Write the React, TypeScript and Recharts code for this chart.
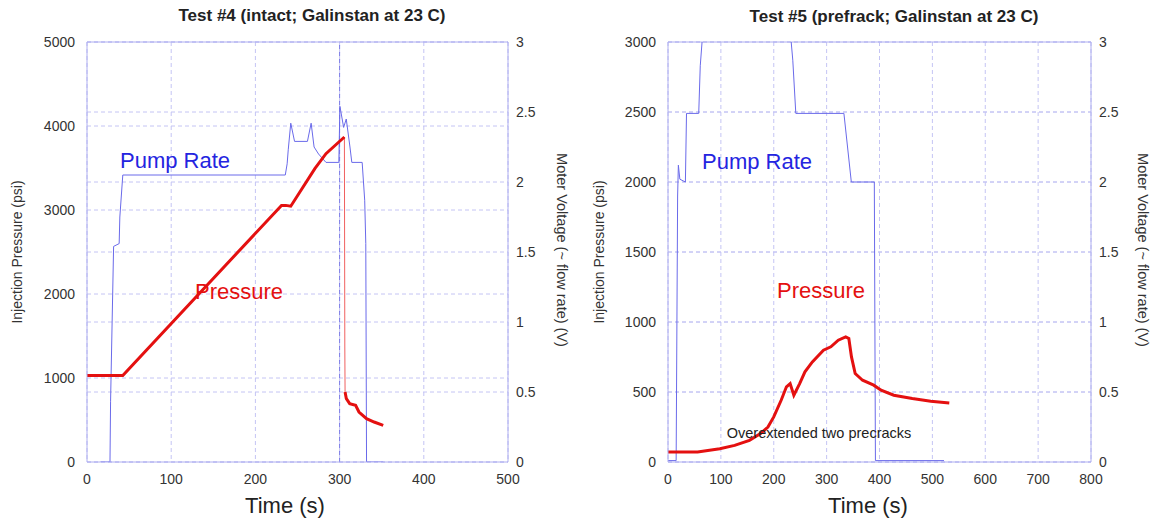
import React from 'react'
import { LineChart, Line, XAxis, YAxis, CartesianGrid, ReferenceLine } from 'recharts'

// Test #4 (intact)
const pump4Time = [16, 27.3, 28, 31.6, 38.2, 39, 42.5, 235.5, 237.7, 239, 242, 246.5, 261.8, 266.2, 269.7, 275, 283.8, 299.1, 300.4, 304.8, 307.9, 312.3, 314.5, 326.8, 329.8, 331.1, 332, 351.8]
const pump4Volt = [0, 0, 0.43, 1.54, 1.56, 1.75, 2.05, 2.05, 2.13, 2.23, 2.42, 2.29, 2.29, 2.42, 2.25, 2.2, 2.14, 2.14, 2.54, 2.39, 2.45, 2.25, 2.14, 2.14, 1.87, 1.56, 0, 0]
const press4aTime = [0, 42.5, 231, 236, 242, 270.6, 283.8, 305.7]
const press4aPsi = [1030, 1030, 3055, 3055, 3045, 3492, 3670, 3869]
const press4DropTime = [305.7, 306.2, 306.5]
const press4DropPsi = [3869, 1369, 833]
const press4bTime = [306.5, 308, 312, 319, 323, 332, 341, 351.8]
const press4bPsi = [833, 754, 694, 675, 595, 516, 476, 436]

// Test #5 (prefrack)
const pump5Time = [0, 15.4, 18.2, 19.6, 22.4, 32.9, 35, 58.1, 61, 64.4, 66, 231, 233, 236, 241.7, 332.7, 346.7, 390.2, 392.3, 522]
const pump5Volt = [0.01, 0.01, 1.9, 2.12, 2.02, 2.0, 2.49, 2.49, 2.83, 3.0, 3.4, 3.4, 3.0, 2.87, 2.49, 2.49, 2.0, 2.0, 0.01, 0.01]
const press5Time = [0, 56, 98, 126, 154, 175, 189, 200, 214, 224, 231, 238, 249, 259, 273, 294, 308, 322, 336, 342, 347, 354, 368, 389, 403, 427, 462, 497, 532]
const press5Psi = [72, 72, 95, 119, 155, 203, 250, 322, 441, 537, 560, 477, 560, 644, 715, 799, 823, 870, 894, 882, 751, 632, 584, 549, 513, 477, 453, 434, 422]

const psiTicks4 = [0, 1000, 2000, 3000, 4000, 5000]
const psiTicks5 = [0, 500, 1000, 1500, 2000, 2500, 3000]
const voltTicks = [0, 0.5, 1, 1.5, 2, 2.5, 3]
const timeTicks4 = [0, 100, 200, 300, 400, 500]
const timeTicks5 = [0, 100, 200, 300, 400, 500, 600, 700, 800]

const zip = (ts: number[], vs: number[], key: string) => ts.map((t, i) => ({ t, [key]: vs[i] }))

const FONT = '"Liberation Sans", Arial, sans-serif'
const GRID = '#c4c4f4'
const BORDER = '#aeaef0'
const PUMP = '#6a6aea'
const RED = '#e41010'
const tickStyle = { fontSize: 14, fill: '#333', fontFamily: FONT }

interface PanelProps {
  left: number
  margin: { top: number; right: number; bottom: number; left: number }
  psiMax: number
  psiTicks: number[]
  timeMax: number
  timeTicks: number[]
  pump: { t: number; v: number }[]
  pressure: { t: number; p: number }[][]
  drop?: { t: number; p: number }[]
  marker300?: boolean
}

const Panel: React.FC<PanelProps> = ({ left, margin, psiMax, psiTicks, timeMax, timeTicks, pump, pressure, drop, marker300 }) => (
  <div style={{ position: 'absolute', left, top: 0 }}>
    <LineChart width={580} height={524} margin={margin}>
      <CartesianGrid yAxisId="p" stroke={GRID} strokeDasharray="4 3" />
      <CartesianGrid yAxisId="v" stroke={GRID} strokeDasharray="4 3" vertical={false} />
      <XAxis
        dataKey="t"
        type="number"
        domain={[0, timeMax]}
        ticks={timeTicks}
        tickLine={false}
        axisLine={{ stroke: BORDER }}
        tick={tickStyle}
        tickMargin={6}
        height={30}
        allowDataOverflow
      />
      <YAxis
        yAxisId="p"
        type="number"
        domain={[0, psiMax]}
        ticks={psiTicks}
        tickLine={false}
        axisLine={{ stroke: BORDER }}
        tick={tickStyle}
        tickMargin={6}
        width={60}
        allowDataOverflow
      />
      <YAxis
        yAxisId="v"
        orientation="right"
        type="number"
        domain={[0, 3]}
        ticks={voltTicks}
        tickLine={false}
        axisLine={{ stroke: BORDER }}
        tick={tickStyle}
        tickMargin={2}
        width={60}
        allowDataOverflow
      />
      <ReferenceLine yAxisId="p" y={psiMax} stroke={BORDER} />
      {marker300 && <ReferenceLine yAxisId="p" x={300} stroke="#7a7ae6" strokeDasharray="4 3" />}
      <Line yAxisId="v" data={pump} dataKey="v" stroke={PUMP} strokeWidth={1} dot={false} isAnimationActive={false} />
      {drop && <Line yAxisId="p" data={drop} dataKey="p" stroke="#f06060" strokeWidth={1} dot={false} isAnimationActive={false} />}
      {pressure.map((seg, i) => (
        <Line key={i} yAxisId="p" data={seg} dataKey="p" stroke={RED} strokeWidth={3} dot={false} isAnimationActive={false} />
      ))}
    </LineChart>
  </div>
)

const abs = (x: number, y: number, extra: React.CSSProperties = {}): React.CSSProperties => ({
  position: 'absolute',
  left: x,
  top: y,
  transform: 'translate(-50%, -50%)',
  whiteSpace: 'nowrap',
  fontFamily: FONT,
  lineHeight: 1,
  ...extra,
})

export default function App() {
  return (
    <div style={{ position: 'absolute', left: 0, top: 0, width: 1160, height: 524, background: '#fff', overflow: 'hidden' }}>
      <Panel
        left={0}
        margin={{ top: 42, right: 12, bottom: 32, left: 27 }}
        psiMax={5000}
        psiTicks={psiTicks4}
        timeMax={500}
        timeTicks={timeTicks4}
        pump={zip(pump4Time, pump4Volt, 'v') as { t: number; v: number }[]}
        pressure={[
          zip(press4aTime, press4aPsi, 'p') as { t: number; p: number }[],
          zip(press4bTime, press4bPsi, 'p') as { t: number; p: number }[],
        ]}
        drop={zip(press4DropTime, press4DropPsi, 'p') as { t: number; p: number }[]}
        marker300
      />
      <Panel
        left={580}
        margin={{ top: 42, right: 9, bottom: 32, left: 28 }}
        psiMax={3000}
        psiTicks={psiTicks5}
        timeMax={800}
        timeTicks={timeTicks5}
        pump={zip(pump5Time, pump5Volt, 'v') as { t: number; v: number }[]}
        pressure={[zip(press5Time, press5Psi, 'p') as { t: number; p: number }[]]}
      />

      <div style={abs(312, 15, { fontSize: 17, fontWeight: 'bold', color: '#222' })}>Test #4 (intact; Galinstan at 23 C)</div>
      <div style={abs(894, 16, { fontSize: 17, fontWeight: 'bold', color: '#222' })}>Test #5 (prefrack; Galinstan at 23 C)</div>

      <div style={abs(17, 252, { fontSize: 14, color: '#333', transform: 'translate(-50%, -50%) rotate(-90deg)' })}>Injection Pressure (psi)</div>
      <div style={abs(599, 252, { fontSize: 14, color: '#333', transform: 'translate(-50%, -50%) rotate(-90deg)' })}>Injection Pressure (psi)</div>
      <div style={abs(562, 250, { fontSize: 14.5, color: '#333', transform: 'translate(-50%, -50%) rotate(90deg)' })}>Moter Voltage (~ flow rate) (V)</div>
      <div style={abs(1143, 250, { fontSize: 14.5, color: '#333', transform: 'translate(-50%, -50%) rotate(90deg)' })}>Moter Voltage (~ flow rate) (V)</div>

      <div style={abs(285, 506, { fontSize: 22, color: '#222' })}>Time (s)</div>
      <div style={abs(868, 506, { fontSize: 22, color: '#222' })}>Time (s)</div>

      <div style={abs(175, 161, { fontSize: 22, color: '#2424e0' })}>Pump Rate</div>
      <div style={abs(239, 292, { fontSize: 22, color: RED })}>Pressure</div>
      <div style={abs(757, 162, { fontSize: 22, color: '#2424e0' })}>Pump Rate</div>
      <div style={abs(821, 291, { fontSize: 22, color: RED })}>Pressure</div>
      <div style={abs(819, 433, { fontSize: 14.5, color: '#222' })}>Overextended two precracks</div>
    </div>
  )
}
